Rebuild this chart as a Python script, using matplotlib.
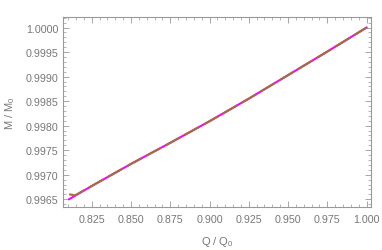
import numpy as np
import matplotlib
matplotlib.use('Agg')
import matplotlib.pyplot as plt
from matplotlib.ticker import MultipleLocator

# values
q_ratio = [0.8106, 0.825, 0.85, 0.875, 0.90, 0.925, 0.95, 0.975, 1.00]
m_ratio = [0.99650, 0.99677, 0.99722, 0.99765, 0.99809, 0.99855, 0.99903, 0.99951, 1.00000]
q_ratio_b = [0.8106, 0.8144, 0.825, 0.85, 0.875, 0.90, 0.925, 0.95, 0.975, 1.00]
m_ratio_b = [0.99660, 0.99658, 0.99677, 0.99722, 0.99765, 0.99809, 0.99855, 0.99903, 0.99951, 1.00000]

plt.rcParams['font.family'] = ['Liberation Sans', 'DejaVu Sans']
grey = '#999999'
txt = '#777777'

fig = plt.figure(figsize=(3.82, 2.51), dpi=100)
ax = fig.add_axes([0.165, 0.171, 0.806, 0.757])

ax.plot(q_ratio, m_ratio, color='#ff00ff', lw=1.5)
ax.plot(q_ratio_b, m_ratio_b, color='#a0703c', lw=1.5, dashes=(8, 2.5))

ax.set_xlim(0.8067, 1.0028)
ax.set_ylim(0.99634, 1.000214)
ax.xaxis.set_major_locator(MultipleLocator(0.025))
ax.xaxis.set_minor_locator(MultipleLocator(0.005))
ax.yaxis.set_major_locator(MultipleLocator(0.0005))
ax.yaxis.set_minor_locator(MultipleLocator(0.0001))
ax.xaxis.set_major_formatter(matplotlib.ticker.FormatStrFormatter('%.3f'))
ax.yaxis.set_major_formatter(matplotlib.ticker.FormatStrFormatter('%.4f'))

for s in ax.spines.values():
    s.set_color(grey)
    s.set_linewidth(0.8)
ax.tick_params(which='both', direction='in', top=True, right=True, color=grey,
               labelcolor=txt, labelsize=7.7)
ax.tick_params(which='major', length=4, width=0.6)
ax.tick_params(which='minor', length=2, width=0.5)
ax.tick_params(axis='x', pad=5)

ax.set_xlabel(r'Q / Q$_{\mathregular{0}}$', color=txt, fontsize=8, labelpad=7)
ax.set_ylabel(r'M / M$_{\mathregular{0}}$', color=txt, fontsize=8, labelpad=6)

fig.savefig('out.png', dpi=100)
